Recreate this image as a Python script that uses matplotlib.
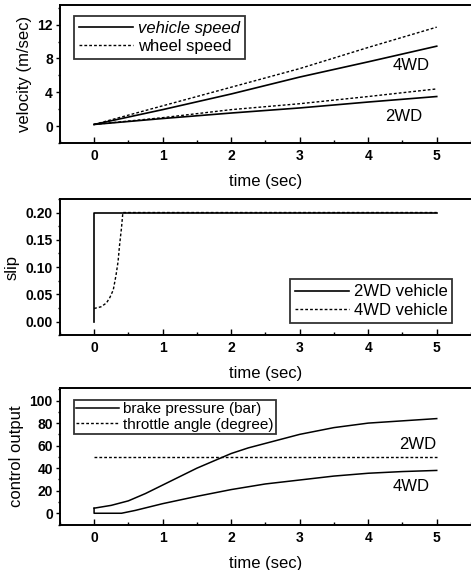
import numpy as np
import matplotlib.pyplot as plt
from matplotlib.ticker import MultipleLocator

plt.rcParams['font.family'] = ['Liberation Sans', 'DejaVu Sans']

# --- velocity panel ---
t_vel = [0, 1, 2, 3, 4, 5]
v4_vehicle = [0.2, 1.95, 3.8, 5.8, 7.6, 9.45]
v4_wheel = [0.2, 2.4, 4.6, 6.8, 9.3, 11.7]
v2_vehicle = [0.2, 0.9, 1.55, 2.15, 2.85, 3.5]
v2_wheel = [0.2, 1.0, 1.95, 2.65, 3.5, 4.4]

# --- slip panel ---
t_slip2 = [0, 0, 0.02, 5]
slip2 = [0.0, 0.2, 0.2, 0.2]
t_slip4 = [0, 0.1, 0.18, 0.23, 0.28, 0.32, 0.35, 0.37, 0.4, 0.42, 5]
slip4 = [0.024, 0.027, 0.034, 0.044, 0.058, 0.085, 0.11, 0.138, 0.172, 0.2, 0.2]

# --- control output panel ---
t_brake2 = [0, 0.25, 0.5, 0.75, 1, 1.25, 1.5, 1.75, 2, 2.25, 2.5, 2.75, 3,
            3.5, 4, 4.5, 5]
brake2 = [4.5, 7.0, 11, 17.5, 25, 32.5, 40, 46.5, 53, 58, 62, 66, 70,
          76, 80, 82, 84]
t_brake4 = [0, 0, 0.4, 0.6, 1, 1.5, 2, 2.5, 3, 3.5, 4, 4.5, 5]
brake4 = [4.5, 0, 0, 2.5, 8.5, 15, 21, 26, 29.5, 33, 35.5, 37, 38]
t_throttle = [0, 5]
throttle = [50, 50]

fig = plt.figure(figsize=(4.71, 5.70), dpi=100)
ax1 = fig.add_axes([0.127, 0.749, 0.873, 0.242])
ax2 = fig.add_axes([0.127, 0.412, 0.873, 0.239])
ax3 = fig.add_axes([0.127, 0.079, 0.873, 0.240])

dot = (0, (2, 1.5))

ax1.plot(t_vel, v4_vehicle, 'k-', lw=1.2, label='vehicle speed')
ax1.plot(t_vel, v4_wheel, 'k', ls=dot, lw=1.0, label='wheel speed')
ax1.plot(t_vel, v2_vehicle, 'k-', lw=1.2)
ax1.plot(t_vel, v2_wheel, 'k', ls=dot, lw=1.0)
ax1.set_ylim(-2, 14.3)
ax1.yaxis.set_major_locator(MultipleLocator(4))
ax1.yaxis.set_minor_locator(MultipleLocator(2))
ax1.set_ylabel('velocity (m/sec)', fontsize=12)
ax1.text(4.35, 7.2, '4WD', fontsize=12, va='center')
ax1.text(4.25, 1.1, '2WD', fontsize=12, va='center')
leg1 = ax1.legend(loc='upper left', bbox_to_anchor=(0.015, 0.985), fontsize=12,
                  frameon=True, fancybox=False, edgecolor='k', handlelength=3.2,
                  borderpad=0.3, labelspacing=0.2, handletextpad=0.3)
leg1.get_frame().set_linewidth(1.3)
leg1.get_texts()[0].set_fontstyle('italic')

ax2.plot(t_slip2, slip2, 'k-', lw=1.2, label='2WD vehicle')
ax2.plot(t_slip4, slip4, 'k', ls=dot, lw=1.0, label='4WD vehicle')
ax2.set_ylim(-0.025, 0.225)
ax2.yaxis.set_major_locator(MultipleLocator(0.05))
ax2.yaxis.set_minor_locator(MultipleLocator(0.025))
ax2.yaxis.set_major_formatter(plt.FormatStrFormatter('%.2f'))
ax2.set_ylabel('slip', fontsize=12)
leg2 = ax2.legend(loc='lower right', bbox_to_anchor=(0.975, 0.03), fontsize=12,
                  frameon=True, fancybox=False, edgecolor='k', handlelength=3.2,
                  borderpad=0.3, labelspacing=0.2, handletextpad=0.3)
leg2.get_frame().set_linewidth(1.3)

ax3.plot(t_brake2, brake2, 'k-', lw=1.1, label='brake pressure (bar)')
ax3.plot(t_throttle, throttle, 'k', ls=dot, lw=1.0, label='throttle angle (degree)')
ax3.plot(t_brake4, brake4, 'k-', lw=1.1)
ax3.set_ylim(-10.4, 111)
ax3.yaxis.set_major_locator(MultipleLocator(20))
ax3.yaxis.set_minor_locator(MultipleLocator(10))
ax3.set_ylabel('control output', fontsize=12)
ax3.text(4.45, 60.6, '2WD', fontsize=12, va='center')
ax3.text(4.35, 23.4, '4WD', fontsize=12, va='center')
leg3 = ax3.legend(loc='upper left', bbox_to_anchor=(0.015, 0.97), fontsize=11,
                  frameon=True, fancybox=False, edgecolor='k', handlelength=2.8,
                  borderpad=0.15, labelspacing=0.1, handletextpad=0.3)
leg3.get_frame().set_linewidth(1.3)

for ax in (ax1, ax2, ax3):
    ax.set_xlim(-0.5, 5.5)
    ax.xaxis.set_major_locator(MultipleLocator(1))
    ax.xaxis.set_minor_locator(MultipleLocator(0.5))
    ax.set_xlabel('time (sec)', fontsize=12, labelpad=8)
    ax.spines['right'].set_visible(False)
    for s in ('left', 'bottom', 'top'):
        ax.spines[s].set_linewidth(1.4)
    ax.tick_params(axis='x', which='both', direction='in', top=False)
    ax.tick_params(axis='x', which='major', length=4, width=1, labelsize=10, pad=4)
    ax.tick_params(axis='x', which='minor', length=2, width=1)
    ax.tick_params(axis='y', which='both', direction='out', right=False)
    ax.tick_params(axis='y', which='major', length=3, width=1, labelsize=10, pad=2)
    ax.tick_params(axis='y', which='minor', length=1.5, width=1)
    for lbl in ax.get_xticklabels() + ax.get_yticklabels():
        lbl.set_fontweight('bold')

fig.savefig('out.png', dpi=100)
